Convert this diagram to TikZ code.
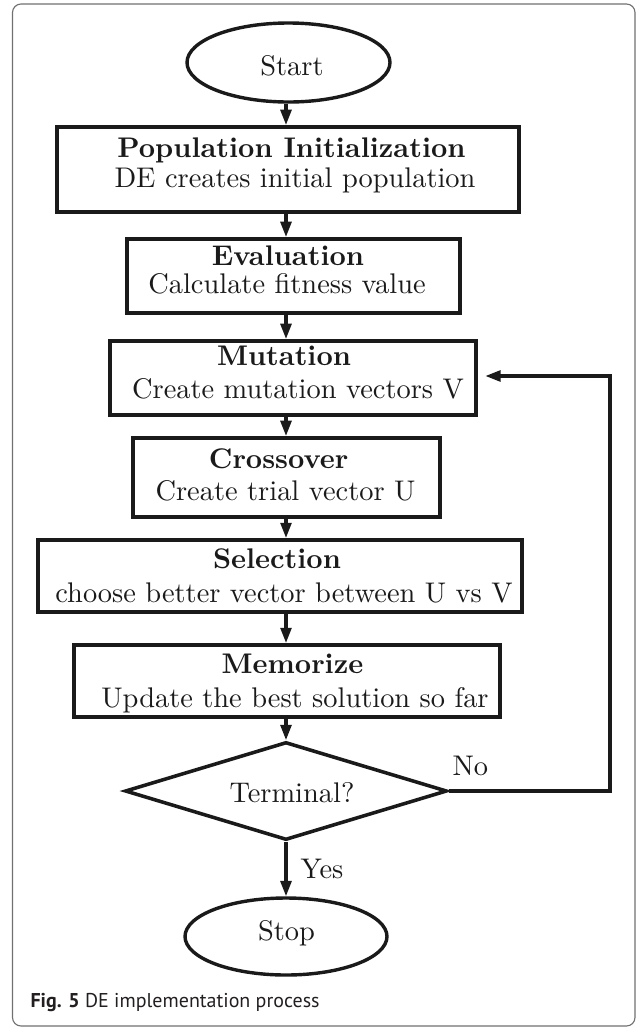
\documentclass[tikz,border=0pt]{standalone}
\usepackage{fontspec}
\usepackage{graphicx}
\newfontfamily\capfont{PT Sans}
\usetikzlibrary{shapes.geometric,arrows.meta}
\newlength{\px}\setlength{\px}{0.352pt}
\definecolor{ink}{HTML}{1A1A1A}
\definecolor{framegray}{HTML}{707070}
\definecolor{capcol}{HTML}{231F20}
\tikzset{
  box/.style={draw=ink, line width=1.35pt, rectangle, inner sep=0pt},
  term/.style={draw=ink, line width=1.2pt, ellipse, inner sep=0pt},
  dec/.style={draw=ink, line width=1.25pt, diamond, inner sep=0pt},
  txt/.style={anchor=base, inner sep=0pt, text=ink, font=\fontsize{10}{12}\selectfont},
  btxt/.style={txt, font=\fontsize{10}{12}\selectfont\bfseries},
  arr/.style={draw=ink, line width=1.15pt, -{Triangle[length=5.4pt,width=3.8pt]}},
}
\begin{document}
\begin{tikzpicture}[x=0.352pt,y=-0.352pt]
\useasboundingbox (0,0) rectangle (637,1028);
\draw[framegray, line width=0.4pt, rounded corners=3pt] (12.5,4) rectangle (635,1026);
\coordinate (ax) at (286,0);

% terminals
\node[term, minimum width=203*\px, minimum height=79*\px] (start) at (288.5,62.5) {};
\node[txt] (startT) at (292,75) {Start};
\node[term, minimum width=202*\px, minimum height=77*\px] (stop) at (286,936.5) {};
\node[txt] (stopT) at (286.5,940) {Stop};

% boxes
\node[box, minimum width=462*\px, minimum height=85*\px] (b1) at (288,169.5) {};
\node[btxt] (b1a) at (291.5,157) {Population Initialization};
\node[txt]  (b1b) at (295,187) {DE creates initial population};

\node[box, minimum width=333*\px, minimum height=74*\px] (b2) at (293.5,276) {};
\node[btxt] (b2a) at (288,265) {Evaluation};
\node[txt]  (b2b) at (287,293) {Calculate fitness value};

\node[box, minimum width=366*\px, minimum height=74*\px] (b3) at (293,378) {};
\node[btxt] (b3a) at (284,365) {Mutation};
\node[txt]  (b3b) at (298,398) {Create mutation vectors V};

\node[box, minimum width=307*\px, minimum height=79*\px] (b4) at (286.5,477.5) {};
\node[btxt] (b4a) at (278.6,468) {Crossover};
\node[txt]  (b4b) at (285.5,500) {Create trial vector U};

\node[box, minimum width=484*\px, minimum height=72*\px] (b5) at (280,576) {};
\node[btxt] (b5a) at (277,568) {Selection};
\node[txt]  (b5b) at (284,602) {choose better vector between U vs V};

\node[box, minimum width=426*\px, minimum height=72*\px] (b6) at (287,681) {};
\node[btxt] (b6a) at (292.5,673) {Memorize};
\node[txt]  (b6b) at (295,707) {Update the best solution so far};

% decision
\node[dec, minimum width=322*\px, minimum height=98*\px] (dia) at (286,791) {};
\node[txt] (diaT) at (292,802) {Terminal?};

% connectors
\draw[arr] (start.south -| ax) -- (b1.north -| ax);
\draw[arr] (b1.south -| ax) -- (b2.north -| ax);
\draw[arr] (b2.south -| ax) -- (b3.north -| ax);
\draw[arr] (b3.south -| ax) -- (b4.north -| ax);
\draw[arr] (b4.south -| ax) -- (b5.north -| ax);
\draw[arr] (b5.south -| ax) -- (b6.north -| ax);
\draw[arr] (b6.south -| ax) -- (dia.north);
\draw[arr] (dia.south) -- (stop.north -| ax);

\coordinate (c1) at (610,791);
\coordinate (c2) at (610,376);
\draw[arr, shorten >=2.6pt] (dia.east) -- (c1) -- (c2) -- (c2 -| b3.east);

\node[txt, anchor=base west] (no) at (452,775) {No};
\node[txt, anchor=base west] (yes) at (300,878) {Yes};

% caption
\node[anchor=base west, inner sep=0pt, text=capcol] (cap) at (30,1007)
  {\resizebox{289\px}{!}{\fontsize{7.2}{9}\selectfont\capfont\textbf{Fig. 5} DE implementation process}};
\end{tikzpicture}
\end{document}
